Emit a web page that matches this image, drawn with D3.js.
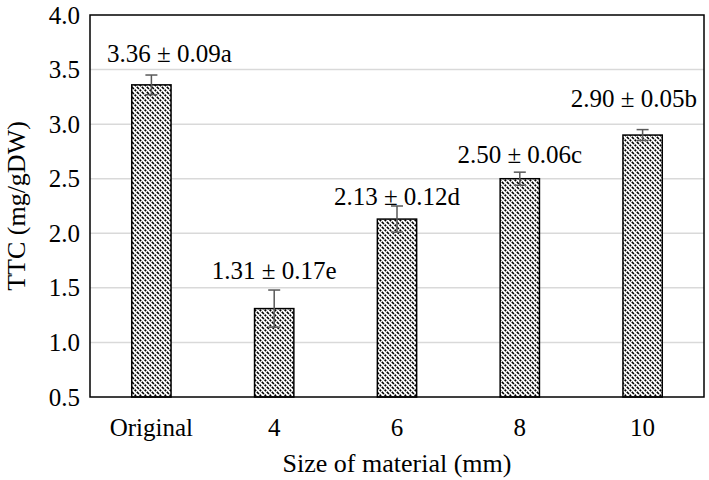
<!DOCTYPE html>
<html>
<head>
<meta charset="utf-8">
<script src="https://d3js.org/d3.v7.min.js"></script>
<style>
body { margin: 0; background: #fff; }
.grid line { stroke: #d9d9d9; stroke-width: 1.5; }
</style>
</head>
<body>
<svg id="chart" width="709" height="480"></svg>
<script>
// data
var sizes = ["Original", "4", "6", "8", "10"];
var ttc = [3.36, 1.31, 2.13, 2.50, 2.90];
var sd = [0.09, 0.17, 0.12, 0.06, 0.05];
var letters = ["a", "e", "d", "c", "b"];
var labelAt = [3.57, 1.58, 2.26, 2.64, 3.16]; // label baselines, in TTC units
var yTicks = [0.5, 1.0, 1.5, 2.0, 2.5, 3.0, 3.5, 4.0];

var serif = "'Liberation Serif'";
var svg = d3.select("#chart");
var margin = {left: 90, right: 5, top: 15, bottom: 83};
var W = 709, H = 480;

var x = d3.scaleBand()
    .domain(sizes)
    .range([margin.left, W - margin.right])
    .paddingInner(0.68)
    .paddingOuter(0.34);

var y = d3.scaleLinear()
    .domain([0.5, 4.0])
    .range([H - margin.bottom, margin.top]);

// hatch pattern for the bars
var defs = svg.append("defs");
var pat = defs.append("pattern")
    .attr("id", "hatch")
    .attr("patternUnits", "userSpaceOnUse")
    .attr("width", 5)
    .attr("height", 5);
pat.append("rect").attr("width", 5).attr("height", 5).attr("fill", "#fff");
pat.append("path")
    .attr("d", "M-1,-1 L6,6 M4,-1 L6,1 M-1,4 L1,6")
    .attr("stroke", "#000")
    .attr("stroke-width", 1.6)
    .attr("stroke-dasharray", "3,1");

// gridlines
svg.append("g")
    .attr("class", "grid")
    .selectAll("line")
    .data(yTicks.slice(1, -1))
    .enter().append("line")
    .attr("x1", margin.left)
    .attr("x2", W - margin.right)
    .attr("y1", function(d) { return y(d); })
    .attr("y2", function(d) { return y(d); });

// y tick labels
var yAxis = d3.axisLeft(y)
    .tickValues(yTicks)
    .tickSize(0)
    .tickPadding(10)
    .tickFormat(d3.format(".1f"));
var gy = svg.append("g")
    .attr("transform", "translate(" + margin.left + ",0)")
    .call(yAxis);
gy.select(".domain").remove();
gy.selectAll("text")
    .style("font-family", serif)
    .style("font-size", "25px")
    .attr("fill", "#000");

// x tick labels
var xAxis = d3.axisBottom(x).tickSize(0).tickPadding(21);
var gx = svg.append("g")
    .attr("transform", "translate(0," + (H - margin.bottom) + ")")
    .call(xAxis);
gx.select(".domain").remove();
gx.selectAll("text")
    .style("font-family", serif)
    .style("font-size", "25px")
    .attr("fill", "#000");

// bars
svg.selectAll("rect.bar")
    .data(ttc)
    .enter().append("rect")
    .attr("class", "bar")
    .attr("x", function(d, i) { return x(sizes[i]); })
    .attr("width", x.bandwidth())
    .attr("y", function(d) { return y(d); })
    .attr("height", function(d) { return y(0.5) - y(d); })
    .attr("fill", "url(#hatch)")
    .attr("stroke", "#000")
    .attr("stroke-width", 1.5);

// error bars
var err = svg.selectAll("g.err")
    .data(ttc)
    .enter().append("g")
    .attr("class", "err")
    .attr("stroke", "#595959")
    .attr("stroke-width", 1.5);
err.append("line")
    .attr("x1", function(d, i) { return x(sizes[i]) + x.bandwidth() / 2; })
    .attr("x2", function(d, i) { return x(sizes[i]) + x.bandwidth() / 2; })
    .attr("y1", function(d, i) { return y(d + sd[i]); })
    .attr("y2", function(d, i) { return y(d - sd[i]); });
err.selectAll("line.cap")
    .data(function(d, i) { return [[i, d + sd[i]], [i, d - sd[i]]]; })
    .enter().append("line")
    .attr("class", "cap")
    .attr("x1", function(d) { return x(sizes[d[0]]) + x.bandwidth() / 2 - 6; })
    .attr("x2", function(d) { return x(sizes[d[0]]) + x.bandwidth() / 2 + 6; })
    .attr("y1", function(d) { return y(d[1]); })
    .attr("y2", function(d) { return y(d[1]); });

// value labels, kept inside the frame
svg.selectAll("text.val")
    .data(ttc)
    .enter().append("text")
    .attr("class", "val")
    .attr("text-anchor", "middle")
    .style("font-family", serif)
    .style("font-size", "25px")
    .attr("y", function(d, i) { return y(labelAt[i]); })
    .text(function(d, i) { return d.toFixed(2) + " \u00b1 " + sd[i].toFixed(2) + letters[i]; })
    .attr("x", function(d, i) {
        var cx = x(sizes[i]) + x.bandwidth() / 2;
        var half = this.getComputedTextLength() / 2;
        cx = Math.max(cx, margin.left + 17 + half);
        cx = Math.min(cx, W - margin.right - 7 - half);
        return cx;
    });

// plot frame
svg.append("rect")
    .attr("x", margin.left)
    .attr("y", margin.top)
    .attr("width", W - margin.left - margin.right)
    .attr("height", H - margin.top - margin.bottom)
    .attr("fill", "none")
    .attr("stroke", "#000")
    .attr("stroke-width", 1.5);

// axis titles
svg.append("text")
    .attr("text-anchor", "middle")
    .style("font-family", serif)
    .style("font-size", "26px")
    .attr("x", (margin.left + W - margin.right) / 2)
    .attr("y", 472)
    .text("Size of material (mm)");

svg.append("text")
    .attr("text-anchor", "middle")
    .style("font-family", serif)
    .style("font-size", "26px")
    .attr("transform", "translate(25," + (margin.top + (H - margin.top - margin.bottom) / 2) + ") rotate(-90)")
    .text("TTC (mg/gDW)");
</script>
</body>
</html>
